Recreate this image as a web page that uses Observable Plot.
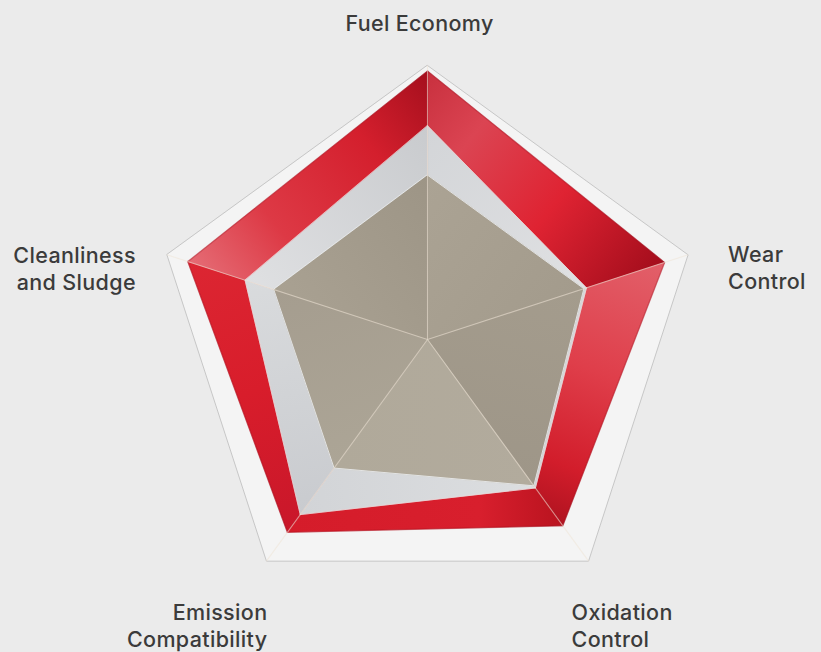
<!DOCTYPE html>
<html><head><meta charset="utf-8">
<script src="https://cdn.jsdelivr.net/npm/d3@7"></script>
<script src="https://cdn.jsdelivr.net/npm/@observablehq/plot@0.6"></script>
<style>html,body{margin:0;padding:0;background:#ebebeb;} svg text{letter-spacing:0.35px;}</style>
</head><body><div id="chart"></div>
<script>
// ---- data ----
const axes = ["Fuel Economy", "Wear\nControl", "Oxidation\nControl", "Emission\nCompatibility", "Cleanliness\nand Sludge"];
const redValues = [0.98, 0.91, 0.84, 0.87, 0.92];
const silverValues = [0.78, 0.61, 0.67, 0.79, 0.70];
const beigeValues = [0.60, 0.60, 0.66, 0.58, 0.59];
const scaleMax = 1;

// ---- styling ----
const gradients = {
  red: [
    [[0, "#c8303e"], [0.25, "#db4452"], [0.6, "#df2332"], [1, "#a30d1c"]],
    [[0, "#e2606a"], [0.45, "#df3e4a"], [0.8, "#d21d2b"], [1, "#b01320"]],
    [[0, "#b9131f"], [0.3, "#d81f2d"], [1, "#d51c2a"]],
    [[0, "#c9172a"], [0.5, "#d81d2b"], [1, "#dc2632"]],
    [[0, "#e56c75"], [0.3, "#dd3945"], [0.7, "#d41f2d"], [1, "#a50f1d"]]
  ],
  silver: [
    [[0, "#d3d5d8"], [1, "#dfe0e2"]],
    [[0, "#d6d8db"], [1, "#d3d5d8"]],
    [[0, "#dcdee0"], [1, "#d2d4d7"]],
    [[0, "#c9cbcf"], [1, "#d9dbdd"]],
    [[0, "#dfe0e2"], [1, "#c9cbce"]]
  ],
  beige: [
    [[0, "#aba394"], [1, "#a39b8c"]],
    [[0, "#a49c8d"], [1, "#9e9688"]],
    [[0, "#b2ab9d"], [1, "#b0a99a"]],
    [[0, "#aca596"], [1, "#a59d8f"]],
    [[0, "#a9a192"], [1, "#9d9586"]]
  ]
};
const labelLayout = [
  {anchor: "middle", dx: -8, dy: -43},
  {anchor: "start", dx: 40, dy: 12.5},
  {anchor: "start", dx: -17, dy: 64},
  {anchor: "end", dx: 1, dy: 64},
  {anchor: "end", dx: -31, dy: 13.5}
];

// ---- geometry via angles ----
const n = axes.length;
const ang = i => (i % n) * 2 * Math.PI / n;
const pt = (i, r) => ({x: r * Math.sin(ang(i)), y: r * Math.cos(ang(i))});

const layers = [["red", redValues], ["silver", silverValues], ["beige", beigeValues]];
function segRows(name, vals) {
  const rows = [];
  for (let s = 0; s < n; s++) {
    const key = `g-${name}-${s}`;
    rows.push({key, ...pt(0, 0)});
    rows.push({key, ...pt(s, vals[s])});
    rows.push({key, ...pt(s + 1, vals[(s + 1) % n])});
  }
  return rows;
}
const polyRows = vals => vals.map((v, i) => pt(i, v));
const outerRing = polyRows(axes.map(() => scaleMax));
const spokes = axes.map((a, i) => ({x1: 0, y1: 0, x2: pt(i, scaleMax).x, y2: pt(i, scaleMax).y}));

const marks = [
  Plot.line(outerRing, {x: "x", y: "y", curve: "linear-closed", fill: "#f4f4f4", stroke: "#c2c2c2", strokeWidth: 0.9})
];
for (const [name, vals] of layers) {
  marks.push(Plot.line(segRows(name, vals), {
    x: "x", y: "y", z: "key", curve: "linear-closed",
    fill: d => `url(#${d.key})`, stroke: d => `url(#${d.key})`, strokeWidth: 0.6
  }));
  if (name === "red") marks.push(Plot.line(polyRows(vals), {x: "x", y: "y", curve: "linear-closed", stroke: "#9a0c1a", strokeOpacity: 0.35, strokeWidth: 1.4}));
  if (name === "silver") marks.push(Plot.line(polyRows(vals), {x: "x", y: "y", curve: "linear-closed", stroke: "#f2dede", strokeOpacity: 0.6, strokeWidth: 1}));
  if (name === "beige") marks.push(Plot.line(polyRows(vals), {x: "x", y: "y", curve: "linear-closed", stroke: "#eef0f2", strokeOpacity: 0.8, strokeWidth: 1}));
}
marks.push(Plot.link(spokes, {x1: "x1", y1: "y1", x2: "x2", y2: "y2", stroke: "#efe4d6", strokeOpacity: 0.55, strokeWidth: 1.1}));
axes.forEach((a, i) => {
  const L = labelLayout[i];
  marks.push(Plot.text([{...pt(i, scaleMax), label: a}], {
    x: "x", y: "y", text: "label", textAnchor: L.anchor, lineAnchor: "middle",
    dx: L.dx, dy: L.dy, fontSize: 21.5, fontWeight: 500, fill: "#3b3b3b",
    fontFamily: "Inter, Roboto, 'Liberation Sans', sans-serif", lineHeight: 27 / 21.5
  }));
});

const plot = Plot.plot({
  width: 821, height: 652, margin: 0,
  x: {domain: [-1, 1], range: [153, 701], axis: null},
  y: {domain: [-1, 1], range: [613, 65], axis: null},
  color: {type: "identity"},
  style: {background: "#ebebeb", overflow: "visible"},
  marks
});

// gradient definitions along each segment's outer edge
const sx = plot.scale("x"), sy = plot.scale("y");
const svg = d3.select(plot);
const defs = svg.insert("defs", ":first-child");
for (const [name, vals] of layers) {
  for (let s = 0; s < n; s++) {
    const a = pt(s, vals[s]), b = pt(s + 1, vals[(s + 1) % n]);
    const g = defs.append("linearGradient").attr("id", `g-${name}-${s}`)
      .attr("gradientUnits", "userSpaceOnUse")
      .attr("x1", sx.apply(a.x)).attr("y1", sy.apply(a.y))
      .attr("x2", sx.apply(b.x)).attr("y2", sy.apply(b.y));
    for (const [o, c] of gradients[name][s]) g.append("stop").attr("offset", o).attr("stop-color", c);
  }
}
document.getElementById("chart").appendChild(plot);
</script>
</body></html>
